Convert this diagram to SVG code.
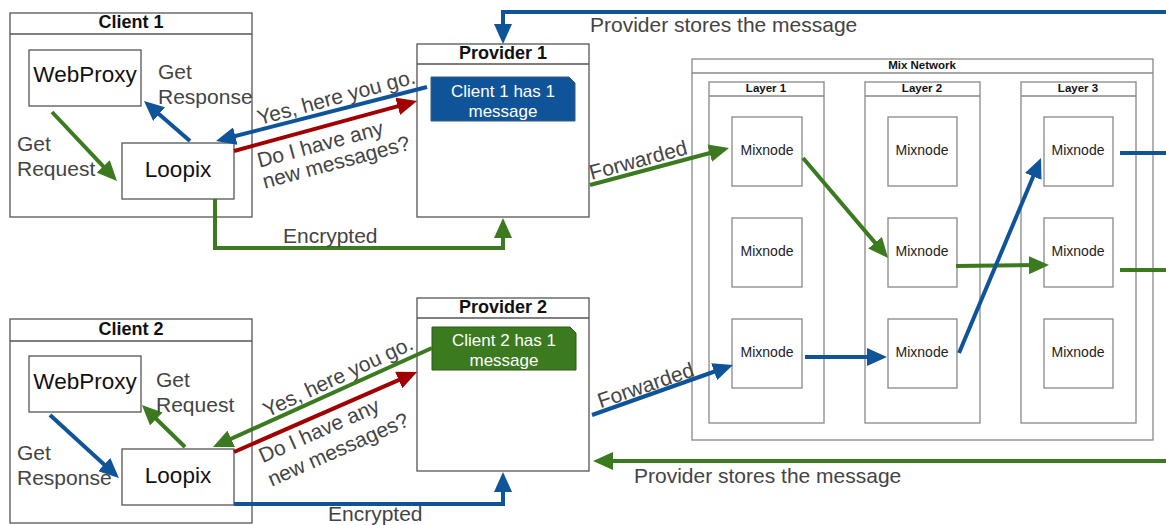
<svg xmlns="http://www.w3.org/2000/svg" width="1166" height="525" viewBox="0 0 1166 525">
<defs>
<marker id="ab" markerUnits="userSpaceOnUse" markerWidth="20" markerHeight="18" refX="11" refY="9" orient="auto"><path d="M0,0 L20,9 L0,18 z" fill="#0f5499"/></marker>
<marker id="ag" markerUnits="userSpaceOnUse" markerWidth="20" markerHeight="18" refX="11" refY="9" orient="auto"><path d="M0,0 L20,9 L0,18 z" fill="#3b7a1f"/></marker>
<marker id="ar" markerUnits="userSpaceOnUse" markerWidth="20" markerHeight="18" refX="11" refY="9" orient="auto"><path d="M0,0 L20,9 L0,18 z" fill="#a00000"/></marker>
</defs>
<style>
text{font-family:"Liberation Sans",Arial,sans-serif}
.box{fill:#fff;stroke:#555;stroke-width:1.3}
.mbox{fill:#fff;stroke:#888;stroke-width:1.3}
.ttl{font-weight:bold;font-size:18px;fill:#111;text-anchor:middle}
.sttl{font-weight:bold;font-size:11.5px;fill:#111;text-anchor:middle}
.big{font-size:22.5px;fill:#111;text-anchor:middle}
.lbl{font-size:21px;fill:#444}
.mn{font-size:14px;fill:#222;text-anchor:middle}
.note{font-size:17px;fill:#fff;text-anchor:middle}
.b{fill:none;stroke:#0f5499;stroke-width:4}
.g{fill:none;stroke:#3b7a1f;stroke-width:4}
.r{fill:none;stroke:#a00000;stroke-width:4}
</style>
<rect width="1166" height="525" fill="#fff"/>

<g id="client1">
<rect class="box" x="10" y="13" width="242" height="204"/>
<line x1="10" y1="34" x2="252" y2="34" stroke="#555" stroke-width="1.3"/>
<text class="ttl" x="131" y="28">Client 1</text>
</g>
<g id="webproxy1"><rect class="box" x="29" y="50" width="112" height="56"/><text class="big" x="85" y="82">WebProxy</text></g>
<g id="loopix1"><rect class="box" x="122" y="143" width="112" height="56"/><text class="big" x="178" y="177">Loopix</text></g>

<g id="provider1">
<rect class="box" x="417" y="44" width="172" height="173"/>
<line x1="417" y1="64" x2="589" y2="64" stroke="#555" stroke-width="1.3"/>
<text class="ttl" x="503" y="59">Provider 1</text>
<path d="M431,77 H569 L575,83 V121 H431 z" fill="#0f5499" stroke="#3a5a80" stroke-width="1"/>
<text class="note" x="503" y="97">Client 1 has 1</text>
<text class="note" x="503" y="117">message</text>
</g>

<g id="client2">
<rect class="box" x="10" y="319" width="242" height="204"/>
<line x1="10" y1="341" x2="252" y2="341" stroke="#555" stroke-width="1.3"/>
<text class="ttl" x="131" y="335">Client 2</text>
</g>
<g id="webproxy2"><rect class="box" x="29" y="356" width="112" height="56"/><text class="big" x="85" y="389">WebProxy</text></g>
<g id="loopix2"><rect class="box" x="122" y="449" width="112" height="56"/><text class="big" x="178" y="483">Loopix</text></g>

<g id="provider2">
<rect class="box" x="417" y="298" width="172" height="173"/>
<line x1="417" y1="318" x2="589" y2="318" stroke="#555" stroke-width="1.3"/>
<text class="ttl" x="503" y="313">Provider 2</text>
<path d="M432,327 H570 L576,333 V370 H432 z" fill="#3b7a1f" stroke="#2d5a18" stroke-width="1"/>
<text class="note" x="504" y="346">Client 2 has 1</text>
<text class="note" x="504" y="366">message</text>
</g>

<g id="mixnetwork">
<rect class="mbox" x="692" y="59" width="461" height="381"/>
<line x1="692" y1="73" x2="1153" y2="73" stroke="#888" stroke-width="1.3"/>
<text class="sttl" x="922" y="69">Mix Network</text>
</g>
<g id="layer1">
<rect class="mbox" x="709" y="82" width="115" height="341"/>
<line x1="709" y1="96" x2="824" y2="96" stroke="#888" stroke-width="1.3"/>
<text class="sttl" x="766" y="92">Layer 1</text>
</g>
<g id="layer2">
<rect class="mbox" x="865" y="82" width="115" height="341"/>
<line x1="865" y1="96" x2="980" y2="96" stroke="#888" stroke-width="1.3"/>
<text class="sttl" x="922" y="92">Layer 2</text>
</g>
<g id="layer3">
<rect class="mbox" x="1021" y="82" width="115" height="341"/>
<line x1="1021" y1="96" x2="1136" y2="96" stroke="#888" stroke-width="1.3"/>
<text class="sttl" x="1078" y="92">Layer 3</text>
</g>
<g id="mix11"><rect class="mbox" x="732" y="117" width="70" height="69"/><text class="mn" x="767" y="155">Mixnode</text></g>
<g id="mix12"><rect class="mbox" x="732" y="218" width="70" height="69"/><text class="mn" x="767" y="256">Mixnode</text></g>
<g id="mix13"><rect class="mbox" x="732" y="319" width="70" height="69"/><text class="mn" x="767" y="357">Mixnode</text></g>
<g id="mix21"><rect class="mbox" x="888" y="117" width="69" height="69"/><text class="mn" x="922" y="155">Mixnode</text></g>
<g id="mix22"><rect class="mbox" x="888" y="218" width="69" height="69"/><text class="mn" x="922" y="256">Mixnode</text></g>
<g id="mix23"><rect class="mbox" x="888" y="319" width="69" height="69"/><text class="mn" x="922" y="357">Mixnode</text></g>
<g id="mix31"><rect class="mbox" x="1044" y="117" width="69" height="69"/><text class="mn" x="1078" y="155">Mixnode</text></g>
<g id="mix32"><rect class="mbox" x="1044" y="218" width="69" height="69"/><text class="mn" x="1078" y="256">Mixnode</text></g>
<g id="mix33"><rect class="mbox" x="1044" y="319" width="69" height="69"/><text class="mn" x="1078" y="357">Mixnode</text></g>

<g id="connectors">
<line class="g" x1="52" y1="112" x2="110.8" y2="174.4" marker-end="url(#ag)"/>
<line class="b" x1="190" y1="141" x2="150.8" y2="106.9" marker-end="url(#ab)"/>
<line class="b" x1="427" y1="87" x2="224.7" y2="138.8" marker-end="url(#ab)"/>
<line class="r" x1="234" y1="151" x2="408.3" y2="103.4" marker-end="url(#ar)"/>
<path class="g" d="M215,199 V248 H503 V227" marker-end="url(#ag)"/>
<path class="b" d="M1166,12 H503 V35" marker-end="url(#ab)"/>
<line class="g" x1="590" y1="185" x2="720.3" y2="150.3" marker-end="url(#ag)"/>

<line class="g" x1="803" y1="158" x2="882.2" y2="251.1" marker-end="url(#ag)"/>
<line class="g" x1="956" y1="266" x2="1040" y2="265.1" marker-end="url(#ag)"/>
<line class="g" x1="1120" y1="270" x2="1166" y2="270"/>
<line class="b" x1="805" y1="357" x2="878" y2="357" marker-end="url(#ab)"/>
<line class="b" x1="959" y1="353" x2="1037.5" y2="166.3" marker-end="url(#ab)"/>
<line class="b" x1="1120" y1="153" x2="1166" y2="153"/>

<line class="b" x1="50" y1="415" x2="112.3" y2="471.9" marker-end="url(#ab)"/>
<line class="g" x1="185" y1="447" x2="148.4" y2="411.3" marker-end="url(#ag)"/>
<line class="g" x1="432" y1="348" x2="221.2" y2="443.3" marker-end="url(#ag)"/>
<line class="r" x1="234" y1="452" x2="408.8" y2="375.6" marker-end="url(#ar)"/>
<path class="b" d="M234,504 H503 V481" marker-end="url(#ab)"/>
<line class="b" x1="592" y1="415" x2="724.5" y2="368" marker-end="url(#ab)"/>
<path class="g" d="M1166,461 H602" marker-end="url(#ag)"/>

<text class="lbl" x="17" y="151">Get</text>
<text class="lbl" x="17" y="176">Request</text>
<text class="lbl" x="158" y="79">Get</text>
<text class="lbl" x="158" y="104">Response</text>
<text class="lbl" x="338" y="104" text-anchor="middle" transform="rotate(-15 338 104)">Yes, here you go.</text>
<text class="lbl" x="322" y="151" text-anchor="middle" transform="rotate(-15 322 151)">Do I have any</text>
<text class="lbl" x="338" y="169" text-anchor="middle" transform="rotate(-15 338 169)">new messages?</text>
<text class="lbl" x="283" y="243">Encrypted</text>
<text class="lbl" x="590" y="32">Provider stores the message</text>
<text class="lbl" x="640" y="167" text-anchor="middle" transform="rotate(-15 640 167)">Forwarded</text>

<text class="lbl" x="17" y="460">Get</text>
<text class="lbl" x="17" y="485">Response</text>
<text class="lbl" x="156" y="387">Get</text>
<text class="lbl" x="156" y="412">Request</text>
<text class="lbl" x="341" y="383" text-anchor="middle" transform="rotate(-25 341 383)">Yes, here you go.</text>
<text class="lbl" x="322" y="437" text-anchor="middle" transform="rotate(-24 322 437)">Do I have any</text>
<text class="lbl" x="341" y="456" text-anchor="middle" transform="rotate(-24 341 456)">new messages?</text>
<text class="lbl" x="328" y="521">Encrypted</text>
<text class="lbl" x="648" y="392" text-anchor="middle" transform="rotate(-19 648 392)">Forwarded</text>
<text class="lbl" x="634" y="483">Provider stores the message</text>
</g>
</svg>
